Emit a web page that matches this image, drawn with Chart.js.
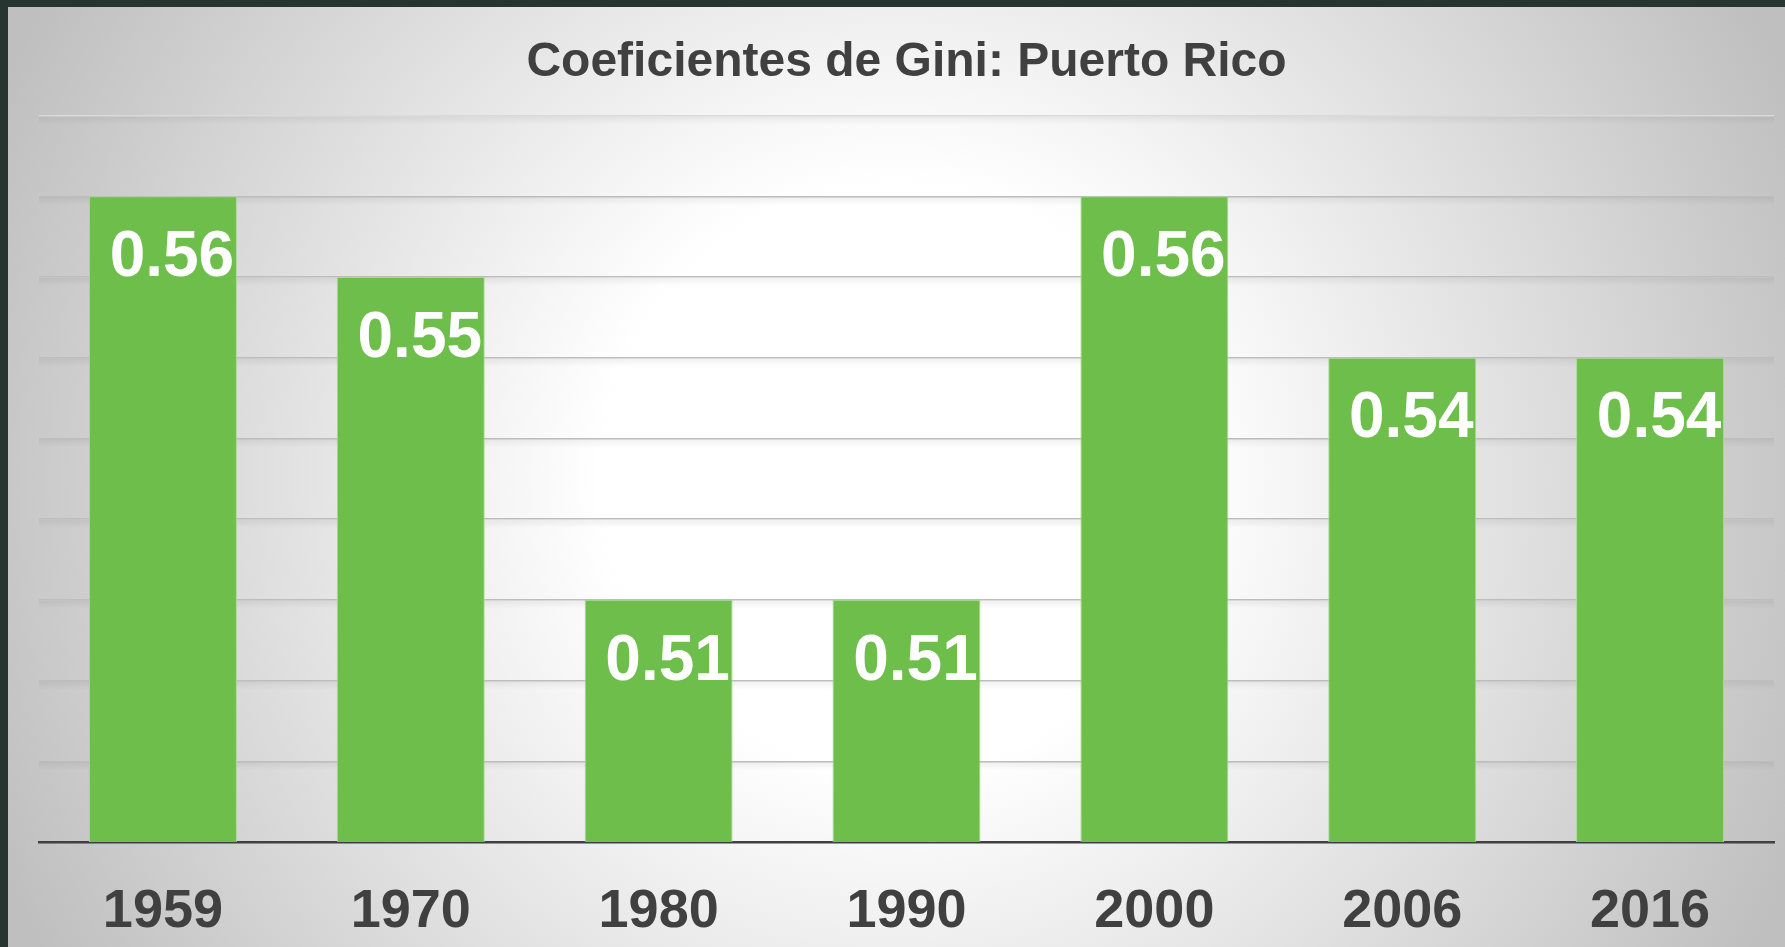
<!DOCTYPE html>
<html lang="es">
<head>
  <meta charset="UTF-8">
  <title>Coeficientes de Gini: Puerto Rico</title>
  <script src="https://cdn.jsdelivr.net/npm/chart.js"></script>
  <style>
    html, body { margin: 0; padding: 0; background: #273530; overflow: hidden; }
    #chartBox { position: absolute; left: 8px; top: 7px; width: 1777px; height: 940px; }
  </style>
</head>
<body>
  <div id="chartBox">
    <canvas id="giniChart"></canvas>
  </div>
  <script>
    const years = ['1959', '1970', '1980', '1990', '2000', '2006', '2016'];
    const gini = [0.56, 0.55, 0.51, 0.51, 0.56, 0.54, 0.54];
    const yMin = 0.48;
    const yMax = 0.57;
    const FONT = '"Liberation Sans", Arial, sans-serif';

    // fondo con degradado radial (blanco al centro, gris en los bordes)
    const bgPlugin = {
      id: 'bg',
      beforeDraw(chart) {
        const { ctx, width, height } = chart;
        const g = ctx.createRadialGradient(width * 0.5, height * 0.5, 0, width * 0.5, height * 0.5, width * 0.55);
        g.addColorStop(0, '#ffffff');
        g.addColorStop(0.3, '#ffffff');
        g.addColorStop(1, '#bfbfbf');
        ctx.save();
        ctx.fillStyle = g;
        ctx.fillRect(0, 0, width, height);
        ctx.restore();
      }
    };

    // sombra suave bajo las líneas de cuadrícula
    const gridShadow = {
      id: 'gridShadow',
      beforeDatasetsDraw(chart) {
        const { ctx, chartArea, scales } = chart;
        ctx.save();
        scales.y.ticks.forEach((t, i) => {
          if (i === 0) return;
          const y = scales.y.getPixelForValue(t.value);
          const g = ctx.createLinearGradient(0, y + 1, 0, y + 9);
          g.addColorStop(0, 'rgba(0,0,0,0.06)');
          g.addColorStop(1, 'rgba(0,0,0,0)');
          ctx.fillStyle = g;
          ctx.fillRect(chartArea.left, y + 1, chartArea.right - chartArea.left, 8);
        });
        ctx.restore();
      }
    };

    // etiquetas de valor dentro de cada barra
    const valueLabels = {
      id: 'valueLabels',
      afterDatasetsDraw(chart) {
        const { ctx } = chart;
        const meta = chart.getDatasetMeta(0);
        ctx.save();
        ctx.fillStyle = '#ffffff';
        ctx.font = 'bold 64px ' + FONT;
        ctx.textAlign = 'center';
        ctx.textBaseline = 'middle';
        meta.data.forEach((bar, i) => {
          ctx.fillText(gini[i].toFixed(2), bar.x + 9, bar.y + 62);
        });
        ctx.restore();
      }
    };

    new Chart(document.getElementById('giniChart'), {
      type: 'bar',
      data: {
        labels: years,
        datasets: [{
          data: gini,
          backgroundColor: '#6dbe4b',
          borderColor: '#a9d992',
          borderWidth: 1,
          categoryPercentage: 1,
          barPercentage: 0.597
        }]
      },
      options: {
        responsive: true,
        maintainAspectRatio: false,
        animation: false,
        layout: { padding: { left: 31, right: 11, top: 0, bottom: 0 } },
        plugins: {
          legend: { display: false },
          tooltip: { enabled: false },
          title: {
            display: true,
            text: 'Coeficientes de Gini: Puerto Rico',
            color: '#404040',
            font: { family: FONT, size: 48, weight: 'bold', lineHeight: 1.2 },
            padding: { top: 27, bottom: 24 }
          }
        },
        scales: {
          x: {
            grid: { display: false, drawTicks: false },
            border: { display: true, color: '#404040', width: 2.5 },
            ticks: {
              color: '#404040',
              padding: 38,
              font: { family: FONT, size: 54, weight: 'bold' }
            },
            afterFit: s => { s.height = 105; }
          },
          y: {
            min: yMin,
            max: yMax,
            ticks: { display: false, stepSize: 0.01 },
            grid: {
              drawTicks: false,
              color: c => c.index === c.chart.scales.y.ticks.length - 1 ? '#dadada' : '#bdbdbd',
              lineWidth: 1.5
            },
            border: { display: false },
            afterFit: s => { s.width = 0; }
          }
        }
      },
      plugins: [bgPlugin, gridShadow, valueLabels]
    });
  </script>
</body>
</html>
